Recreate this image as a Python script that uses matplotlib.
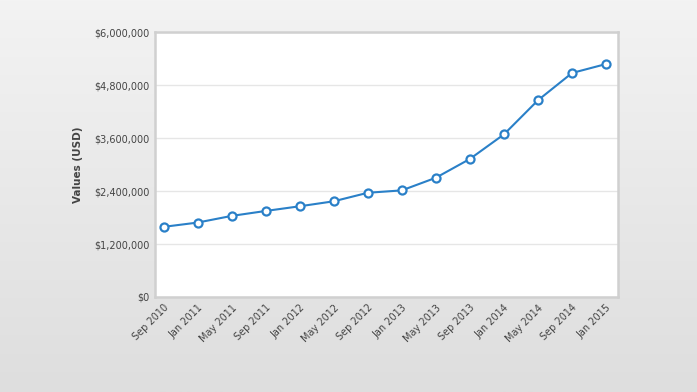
import matplotlib.pyplot as plt
import numpy as np
from matplotlib.ticker import FuncFormatter

months = ['Sep 2010', 'Jan 2011', 'May 2011', 'Sep 2011', 'Jan 2012', 'May 2012',
          'Sep 2012', 'Jan 2013', 'May 2013', 'Sep 2013', 'Jan 2014', 'May 2014',
          'Sep 2014', 'Jan 2015']
values = [1588000, 1685000, 1836000, 1948000, 2054000, 2167000, 2360000,
          2414000, 2700000, 3126000, 3682000, 4455000, 5072000, 5275000]
yticks = [0, 1200000, 2400000, 3600000, 4800000, 6000000]

fig = plt.figure(figsize=(6.97, 3.92), dpi=100)

# background gradient
bg = fig.add_axes([0, 0, 1, 1], zorder=-10)
grad = np.linspace(0, 1, 256).reshape(-1, 1)
bg.imshow(grad, aspect='auto', extent=[0, 1, 0, 1], origin='upper',
          cmap=plt.matplotlib.colors.LinearSegmentedColormap.from_list('g', ['#f3f3f3', '#dedede']))
bg.axis('off')

ax = fig.add_axes([155/697, 1 - 297/392, (618-155)/697, (297-32)/392])
ax.set_facecolor('white')
x = np.arange(len(months))
ax.plot(x, values, color='#2a80c8', lw=1.5, marker='o', ms=5.8,
        mfc='white', mec='#2a80c8', mew=1.6, zorder=3)

ax.set_xlim(-0.25, len(months) - 1 + 0.35)
ax.set_ylim(0, 6000000)
ax.set_yticks(yticks)
ax.yaxis.set_major_formatter(FuncFormatter(lambda v, p: '${:,.0f}'.format(v)))
ax.set_xticks(x)
ax.set_xticklabels(months, rotation=45, ha='right', rotation_mode='anchor')
ax.tick_params(length=0, labelsize=7, colors='#444444', pad=4)
ax.grid(axis='y', color='#e6e6e6', lw=1)
ax.set_axisbelow(True)
for s in ax.spines.values():
    s.set_color('#d0d0d0')
    s.set_linewidth(1.8)
ax.set_ylabel('Values (USD)', fontsize=7.5, fontweight='bold', color='#444444', labelpad=8)

fig.savefig('out.png', dpi=100)
